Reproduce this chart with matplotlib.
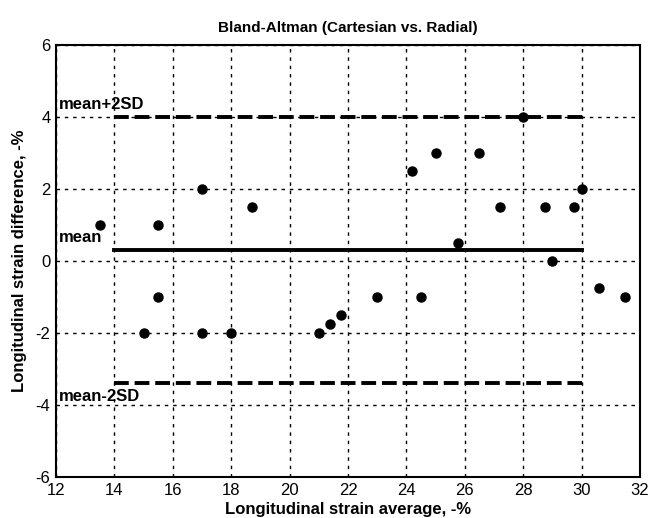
import matplotlib
matplotlib.use("Agg")
import matplotlib.pyplot as plt

plt.rcParams['font.family'] = ['Liberation Sans', 'DejaVu Sans']
plt.rcParams['axes.unicode_minus'] = False

avg = [13.5, 15.5, 17, 18.7, 15.5, 28, 25, 26.5, 24.2, 30, 27.2, 28.75, 29.75,
       25.75, 29, 30.6, 31.5, 23, 24.5, 21.75, 15, 17, 18, 21, 21.4]
diff = [1, 1, 2, 1.5, -1, 4, 3, 3, 2.5, 2, 1.5, 1.5, 1.5,
        0.5, 0, -0.75, -1, -1, -1, -1.5, -2, -2, -2, -2, -1.75]
mean_val = 0.3
upper = 4.0
lower = -3.4
line_x = [14, 30]
xticks = [12, 14, 16, 18, 20, 22, 24, 26, 28, 30, 32]
yticks = [-6, -4, -2, 0, 2, 4, 6]

fig = plt.figure(figsize=(6.5, 5.18), dpi=100)
ax = fig.add_axes([0.0862, 0.0792, 0.8984, 0.834])
ax.set_xlim(12, 32)
ax.set_ylim(-6, 6)
ax.set_xticks(xticks)
ax.set_yticks(yticks)
ax.grid(True, color='black', linestyle=(0, (2.5, 3.5)), linewidth=1.0)
ax.set_axisbelow(True)
for s in ax.spines.values():
    s.set_linewidth(1.5)
ax.tick_params(direction='in', length=0, labelsize=12, pad=4)

ax.plot(line_x, [upper, upper], color='black', linestyle=(0, (3.8, 1.5)), linewidth=2.8)
ax.plot(line_x, [mean_val, mean_val], color='black', linestyle='-', linewidth=2.8)
ax.plot(line_x, [lower, lower], color='black', linestyle=(0, (3.8, 1.5)), linewidth=2.8)
ax.plot(avg, diff, 'o', color='black', markersize=6.5, zorder=5)

ax.text(12.1, upper + 0.15, 'mean+2SD', fontsize=12, fontweight='bold', va='bottom', ha='left')
ax.text(12.1, mean_val + 0.15, 'mean', fontsize=12, fontweight='bold', va='bottom', ha='left')
ax.text(12.1, lower - 0.15, 'mean-2SD', fontsize=12, fontweight='bold', va='top', ha='left')

ax.set_title('Bland-Altman (Cartesian vs. Radial)', fontsize=11, fontweight='bold', pad=9)
ax.set_xlabel('Longitudinal strain average, -%', fontsize=12, fontweight='bold', labelpad=3)
ax.set_ylabel('Longitudinal strain difference, -%', fontsize=12, fontweight='bold', labelpad=6)

fig.savefig('out.png', dpi=100)
